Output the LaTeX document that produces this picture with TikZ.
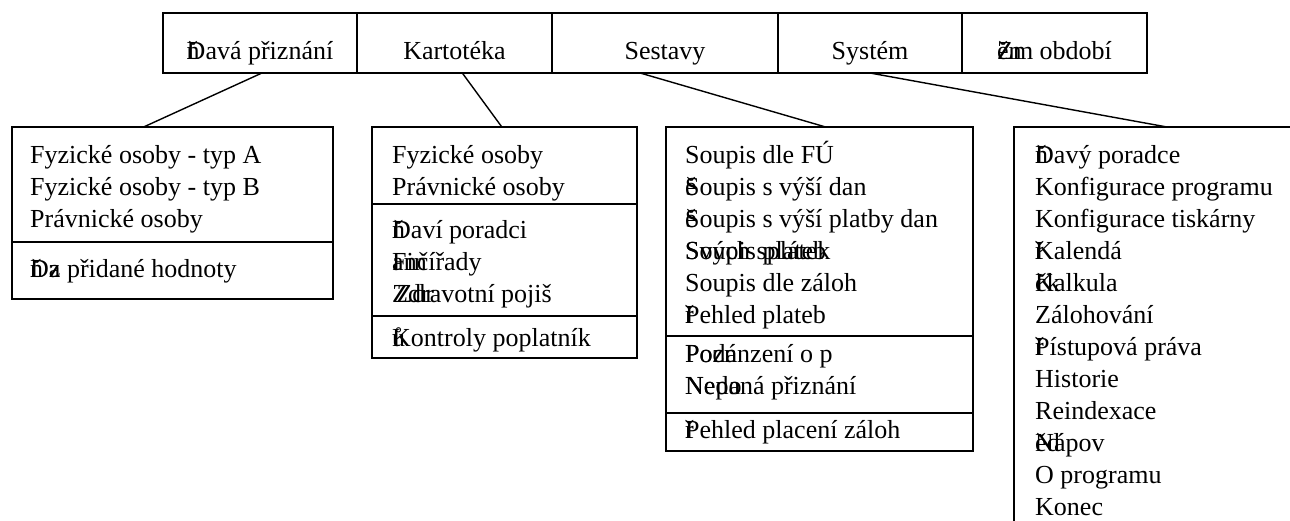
\documentclass[tikz,border=0pt]{standalone}
\usepackage{fontspec}
\setmainfont{Liberation Serif}
\usetikzlibrary{positioning,calc}
\newcommand\ov[2]{\rlap{#1}#2}
\tikzset{
  menucell/.style={rectangle,draw,line width=1.6pt,outer sep=0pt,inner sep=0pt,
                   minimum height=60pt,text height=46pt,text depth=14pt},
  secbox/.style={rectangle,draw,line width=1.4pt,outer sep=0pt,inner sep=0pt,
                 anchor=north west},
  item/.style={anchor=base west,inner sep=0pt},
  link/.style={line width=1.4pt},
}
\begin{document}
\begin{tikzpicture}[x=1pt,y=-1pt,font=\fontsize{26pt}{32pt}\selectfont]
  \useasboundingbox (0,0) rectangle (1290,520);
  %% Menu bar
  \node[menucell,minimum width=194pt,anchor=north west] (dp) at (163,13)
    {\ov{ň}{Da}vá přiznání};
  \node[menucell,minimum width=195pt,right=0pt of dp] (kt) {Kartotéka};
  \node[menucell,minimum width=226pt,right=0pt of kt] (ss) {Sestavy};
  \node[menucell,minimum width=184pt,right=0pt of ss] (sy) {Systém};
  \node[menucell,minimum width=185pt,right=0pt of sy] (zo) {\ov{ěn}{Zm} období};

  %% Dane
  \node[secbox,minimum width=321pt,minimum height=115pt] (dpA) at (12,127) {};
  \node[secbox,minimum width=321pt,minimum height=57pt] (dpB) at (dpA.south west) {};
  \foreach \txt [count=\i] in {Fyzické osoby - typ A,Fyzické osoby - typ B,Právnické osoby}
    \node[item] (dpA\i) at ($(dpA.north west)+(18,4+32*\i)$) {\txt};
  \node[item] (dpB1) at ($(dpB.north west)+(18,35)$) {\ov{ň}{D}\ov{a}{z} přidané hodnoty};

  %% Kartoteka
  \node[secbox,minimum width=265pt,minimum height=77pt] (ktA) at (372,127) {};
  \node[secbox,minimum width=265pt,minimum height=112pt] (ktB) at (ktA.south west) {};
  \node[secbox,minimum width=265pt,minimum height=42pt] (ktC) at (ktB.south west) {};
  \foreach \txt [count=\i] in {Fyzické osoby,Právnické osoby}
    \node[item] (ktA\i) at ($(ktA.north west)+(20,4+32*\i)$) {\txt};
  \foreach \txt [count=\i] in {\ov{ň}{Da}ví poradci,\ov{Fin}{ančí}řady,
                               \ov{\,Zdr}{Zdra}votní pojiš}
    \node[item] (ktB\i) at ($(ktB.north west)+(20,2+32*\i)$) {\txt};
  \node[item] (ktC1) at ($(ktC.north west)+(20,30)$) {\ov{ů}{K}ontroly poplatník};

  %% Sestavy
  \node[secbox,minimum width=307pt,minimum height=209pt] (ssA) at (666,127) {};
  \node[secbox,minimum width=307pt,minimum height=77pt] (ssB) at (ssA.south west) {};
  \node[secbox,minimum width=307pt,minimum height=38pt] (ssC) at (ssB.south west) {};
  \foreach \txt [count=\i] in {Soupis dle FÚ,\ov{ě}{S}oupis s výší dan,
      \ov{ě}{S}oupis s výší platby dan,\ov{Svých splátek}{Soupis plateb},
      Soupis dle záloh,\ov{ř}{P}ehled plateb}
    \node[item] (ssA\i) at ($(ssA.north west)+(19,4+32*\i)$) {\txt};
  \foreach \txt [count=\i] in {\ov{Pozn}{Podánz}ení o p,\ov{Nepo}{Neda}ná přiznání}
    \node[item] (ssB\i) at ($(ssB.north west)+(19,-6+32*\i)$) {\txt};
  \node[item] (ssC1) at ($(ssC.north west)+(19,25)$) {\ov{ř}{P}ehled placení záloh};

  %% System
  \node[secbox,minimum width=300pt,minimum height=420pt] (syA) at (1014,127) {};
  \foreach \txt [count=\i] in {\ov{ň}{Da}vý poradce,Konfigurace programu,
      Konfigurace tiskárny,\ov{ř}{K}alendá,\ov{čk}{Kal}kula,Zálohování,
      \ov{ř}{P}ístupová práva,Historie,Reindexace,\ov{ěd}{Ná}pov,
      O programu,Konec}
    \node[item] (syA\i) at ($(syA.north west)+(21,4+32*\i)$) {\txt};

  %% Links
  \draw[link] ($(dp.south west)!0.51!(dp.south east)$) --
    ($(dpA.north west)!0.41!(dpA.north east)$);
  \draw[link] ($(kt.south west)!0.54!(kt.south east)$) --
    ($(ktA.north west)!0.49!(ktA.north east)$);
  \draw[link] ($(ss.south west)!0.39!(ss.south east)$) --
    ($(ssA.north west)!0.52!(ssA.north east)$);
  \draw[link] ($(sy.south west)!0.5!(sy.south east)$) --
    ($(syA.north west)!0.51!(syA.north east)$);
\end{tikzpicture}
\end{document}
